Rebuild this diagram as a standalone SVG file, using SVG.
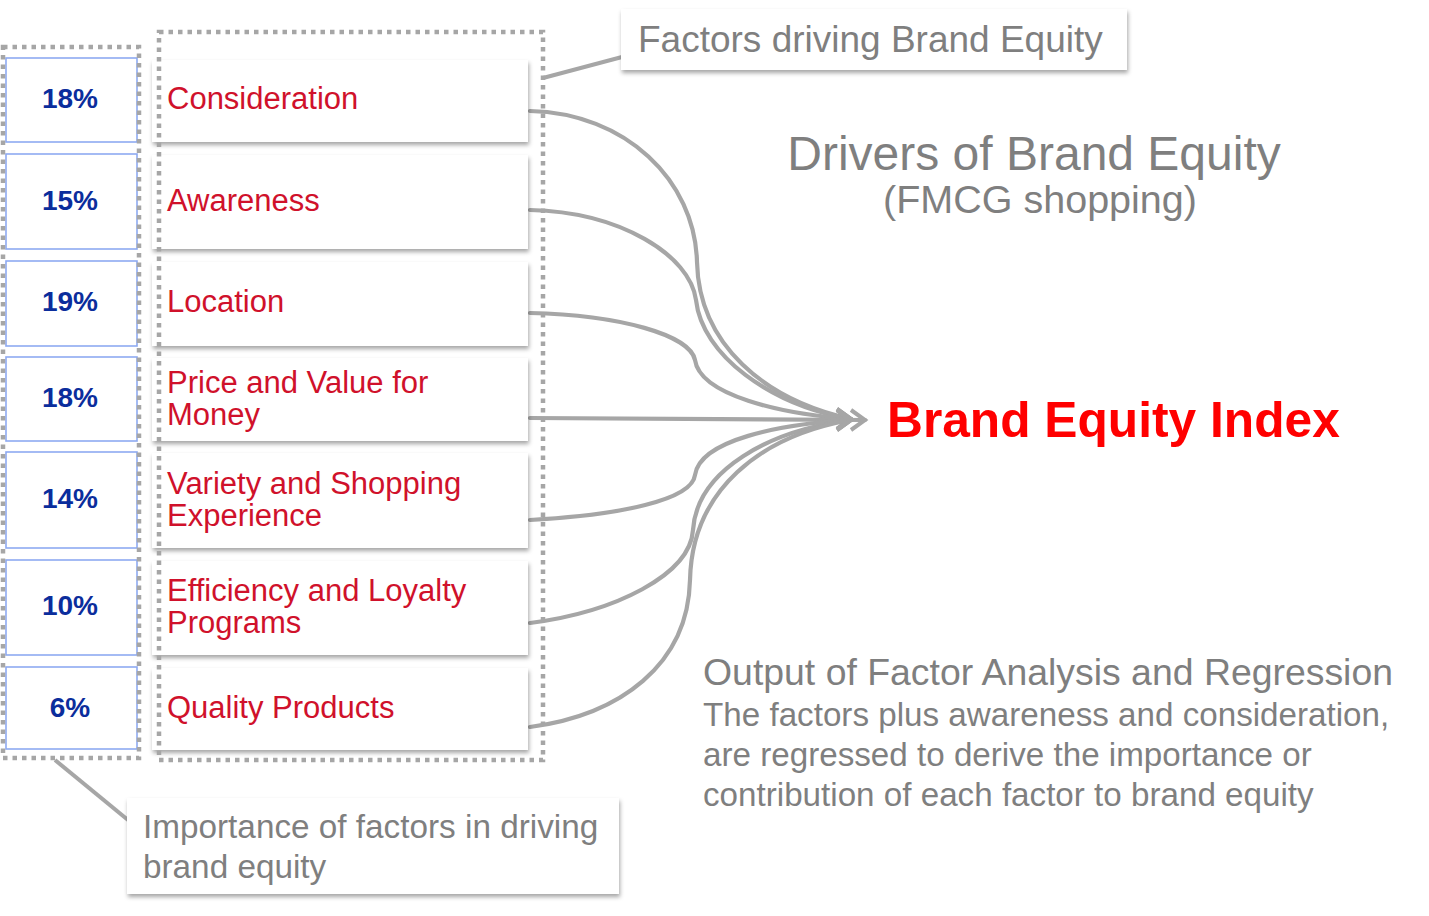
<svg xmlns="http://www.w3.org/2000/svg" width="1429" height="916" viewBox="0 0 1429 916">
<style>
.bg{fill:#ffffff}
.grp{fill:none;stroke:#a6a6a6;stroke-width:4.5;stroke-dasharray:4.5 5}
.pbox{fill:#ffffff;stroke:#8eaaf2;stroke-width:1.6}
.fbox{fill:#ffffff;filter:url(#sh)}
.cbox{fill:#ffffff;filter:url(#sh)}
.pct{font-family:"Liberation Sans",Arial,sans-serif;font-weight:bold;font-size:28px;fill:#0b2d9c;text-anchor:middle}
.fac{font-family:"Liberation Sans",Arial,sans-serif;font-size:31px;fill:#d0112b}
.gry{font-family:"Liberation Sans",Arial,sans-serif;fill:#7f7f7f}
.con{fill:none;stroke:#a6a6a6;stroke-width:4.2;stroke-linecap:round}
.lead{fill:none;stroke:#a6a6a6;stroke-width:4}
</style>
<defs>
<filter id="sh" x="-5%" y="-10%" width="115%" height="130%">
<feDropShadow dx="1" dy="3" stdDeviation="2" flood-color="#000000" flood-opacity="0.35"/>
</filter>
<marker id="arr" markerUnits="userSpaceOnUse" markerWidth="24" markerHeight="24" viewBox="-20 -12 24 24" refX="0" refY="0" orient="0">
<path d="M-14,-10 L0,0 L-14,10" fill="none" stroke="#a6a6a6" stroke-width="4"/>
</marker>
</defs>
<rect class="bg" x="0" y="0" width="1429" height="916"/>

<g id="connectors">
<path class="con" marker-end="url(#arr)" d="M530,111 C625,113 695,180 697,262 C699,345 765,400 851,419"/>
<path class="con" marker-end="url(#arr)" d="M530,210 C620,212 690,255 696,300 C702,355 770,405 851,419"/>
<path class="con" marker-end="url(#arr)" d="M530,313 C620,315 690,335 695,360 C700,395 780,414 851,419"/>
<path class="con" marker-end="url(#arr)" d="M530,418 C650,418 760,420 865,420"/>
<path class="con" marker-end="url(#arr)" d="M530,520 C620,515 692,500 695,475 C700,440 780,424 851,420"/>
<path class="con" marker-end="url(#arr)" d="M530,623 C615,612 690,575 693,530 C697,470 770,430 851,420"/>
<path class="con" marker-end="url(#arr)" d="M530,727 C620,715 688,665 690,580 C692,490 760,436 851,420"/>
<path class="lead" d="M543,78 L622,57"/>
<path class="lead" d="M55,760 L128,820"/>
</g>

<g id="pct-boxes">
<g id="p1"><rect class="pbox" x="6" y="58" width="131" height="84"/><text class="pct" x="70" y="108">18%</text></g>
<g id="p2"><rect class="pbox" x="6" y="154" width="131" height="95"/><text class="pct" x="70" y="210">15%</text></g>
<g id="p3"><rect class="pbox" x="6" y="261" width="131" height="85"/><text class="pct" x="70" y="311">19%</text></g>
<g id="p4"><rect class="pbox" x="6" y="357" width="131" height="84"/><text class="pct" x="70" y="407">18%</text></g>
<g id="p5"><rect class="pbox" x="6" y="452" width="131" height="96"/><text class="pct" x="70" y="508">14%</text></g>
<g id="p6"><rect class="pbox" x="6" y="560" width="131" height="95"/><text class="pct" x="70" y="615">10%</text></g>
<g id="p7"><rect class="pbox" x="6" y="667" width="131" height="82"/><text class="pct" x="70" y="717">6%</text></g>
</g>
<rect id="pct-group" class="grp" x="3" y="47" width="136" height="711"/>

<g id="factor-boxes">
<g id="f1"><rect class="fbox" x="152" y="60" width="376" height="82"/><text class="fac" x="167" y="109">Consideration</text></g>
<g id="f2"><rect class="fbox" x="152" y="155" width="376" height="94"/><text class="fac" x="167" y="211">Awareness</text></g>
<g id="f3"><rect class="fbox" x="152" y="262" width="376" height="84"/><text class="fac" x="167" y="312">Location</text></g>
<g id="f4"><rect class="fbox" x="152" y="358" width="376" height="83"/><text class="fac" x="167" y="393">Price and Value for<tspan x="167" dy="32">Money</tspan></text></g>
<g id="f5"><rect class="fbox" x="152" y="453" width="376" height="95"/><text class="fac" x="167" y="494">Variety and Shopping<tspan x="167" dy="32">Experience</tspan></text></g>
<g id="f6"><rect class="fbox" x="152" y="561" width="376" height="94"/><text class="fac" x="167" y="601">Efficiency and Loyalty<tspan x="167" dy="32">Programs</tspan></text></g>
<g id="f7"><rect class="fbox" x="152" y="668" width="376" height="82"/><text class="fac" x="167" y="718">Quality Products</text></g>
</g>
<rect id="factor-group" class="grp" x="159" y="32" width="384" height="728"/>

<g id="callout-factors"><rect class="cbox" x="621" y="9" width="506" height="61"/><text class="gry" x="638" y="52" font-size="37">Factors driving Brand Equity</text></g>
<g id="callout-importance"><rect class="cbox" x="127" y="798" width="492" height="96"/><text class="gry" x="143" y="838" font-size="33.3">Importance of factors in driving<tspan x="143" dy="40">brand equity</tspan></text></g>

<g id="title"><text class="gry" x="1034" y="170" font-size="48" text-anchor="middle">Drivers of Brand Equity</text><text class="gry" x="1040" y="213" font-size="39.5" text-anchor="middle">(FMCG shopping)</text></g>
<g id="brand-equity-index"><text x="887" y="437" font-family="Liberation Sans,Arial,sans-serif" font-weight="bold" font-size="49.7" fill="#ff0000">Brand Equity Index</text></g>
<g id="note"><text class="gry" x="703" y="685" font-size="37.4">Output of Factor Analysis and Regression</text><text class="gry" x="703" y="726" font-size="33.2">The factors plus awareness and consideration,<tspan x="703" dy="40">are regressed to derive the importance or</tspan><tspan x="703" dy="40">contribution of each factor to brand equity</tspan></text></g>
</svg>
